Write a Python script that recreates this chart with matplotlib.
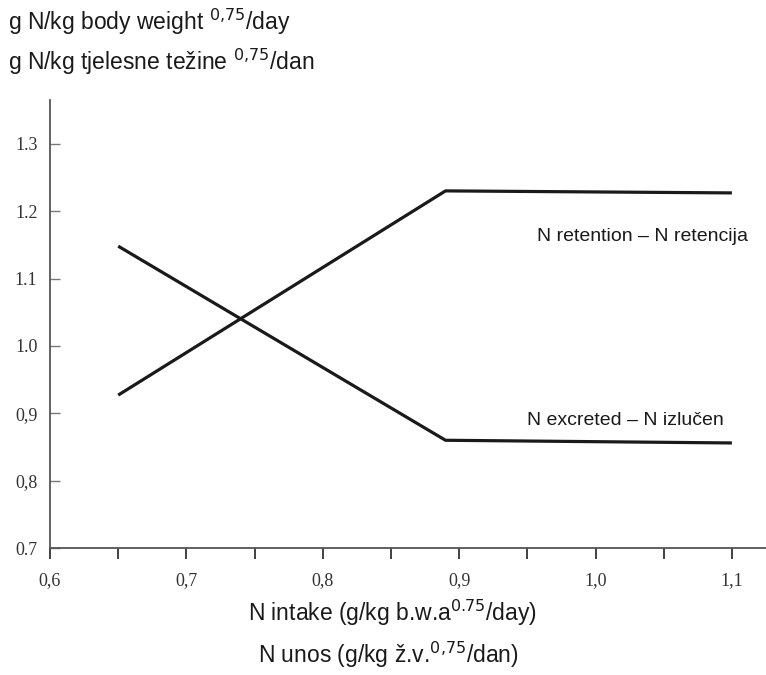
import matplotlib.pyplot as plt

plt.rcParams['font.family'] = ['Liberation Sans', 'DejaVu Sans']

# N intake (g/kg b.w.^0.75/day)
intake = [0.65, 0.89, 1.10]
retention = [0.927, 1.230, 1.227]
excreted = [1.148, 0.860, 0.856]

xticks = [0.6, 0.7, 0.8, 0.9, 1.0, 1.1]
xtick_labels = ['0,6', '0,7', '0,8', '0,9', '1,0', '1,1']
yticks = [0.7, 0.8, 0.9, 1.0, 1.1, 1.2, 1.3]
ytick_labels = ['0.7', '0,8', '0,9', '1.0', '1.1', '1.2', '1.3']

fig = plt.figure(figsize=(7.66, 6.75), dpi=100)
ax = fig.add_axes([0.0653, 0.188, 0.9347, 0.664])

ax.plot(intake, retention, color='#1a1a1a', lw=2.3, solid_capstyle='butt')
ax.plot(intake, excreted, color='#1a1a1a', lw=2.3, solid_capstyle='butt')

ax.set_xlim(0.6, 1.125)
ax.set_ylim(0.7, 1.365)

ax.set_xticks(xticks)
ax.set_xticklabels(xtick_labels, family='Liberation Serif', fontsize=13, color='#333333')
ax.set_xticks([0.65, 0.75, 0.85, 0.95, 1.05], minor=True)
ax.set_yticks(yticks)
ax.set_yticklabels(ytick_labels, family='Liberation Serif', fontsize=13, color='#333333')

ax.tick_params(axis='x', which='both', direction='out', length=8, width=1.3,
               color='#333333', pad=9)
ax.tick_params(axis='y', direction='in', length=7, width=1.0, color='#777777', pad=9)

for side in ['top', 'right']:
    ax.spines[side].set_visible(False)
for side in ['left', 'bottom']:
    ax.spines[side].set_color('#555555')
    ax.spines[side].set_linewidth(1.3)

ax.text(0.957, 1.162, 'N retention \u2013 N retencija', fontsize=14, color='#1a1a1a',
        ha='left', va='center')
ax.text(0.950, 0.890, 'N excreted \u2013 N izlu\u010den', fontsize=14, color='#1a1a1a',
        ha='left', va='center')

fig.text(0.011, 0.967, 'g N/kg body weight $^{0{,}75}$/day', fontsize=16.5, color='#1a1a1a',
         ha='left', va='center')
fig.text(0.011, 0.908, 'g N/kg tjelesne te\u017eine $^{0{,}75}$/dan', fontsize=16.5, color='#1a1a1a',
         ha='left', va='center')

fig.text(0.512, 0.092, 'N intake (g/kg b.w.a$^{0.75}$/day)', fontsize=16.5, color='#1a1a1a',
         ha='center', va='center')
fig.text(0.507, 0.030, 'N unos (g/kg \u017e.v.$^{0{,}75}$/dan)', fontsize=16.5, color='#1a1a1a',
         ha='center', va='center')

fig.savefig('out.png', dpi=100)
